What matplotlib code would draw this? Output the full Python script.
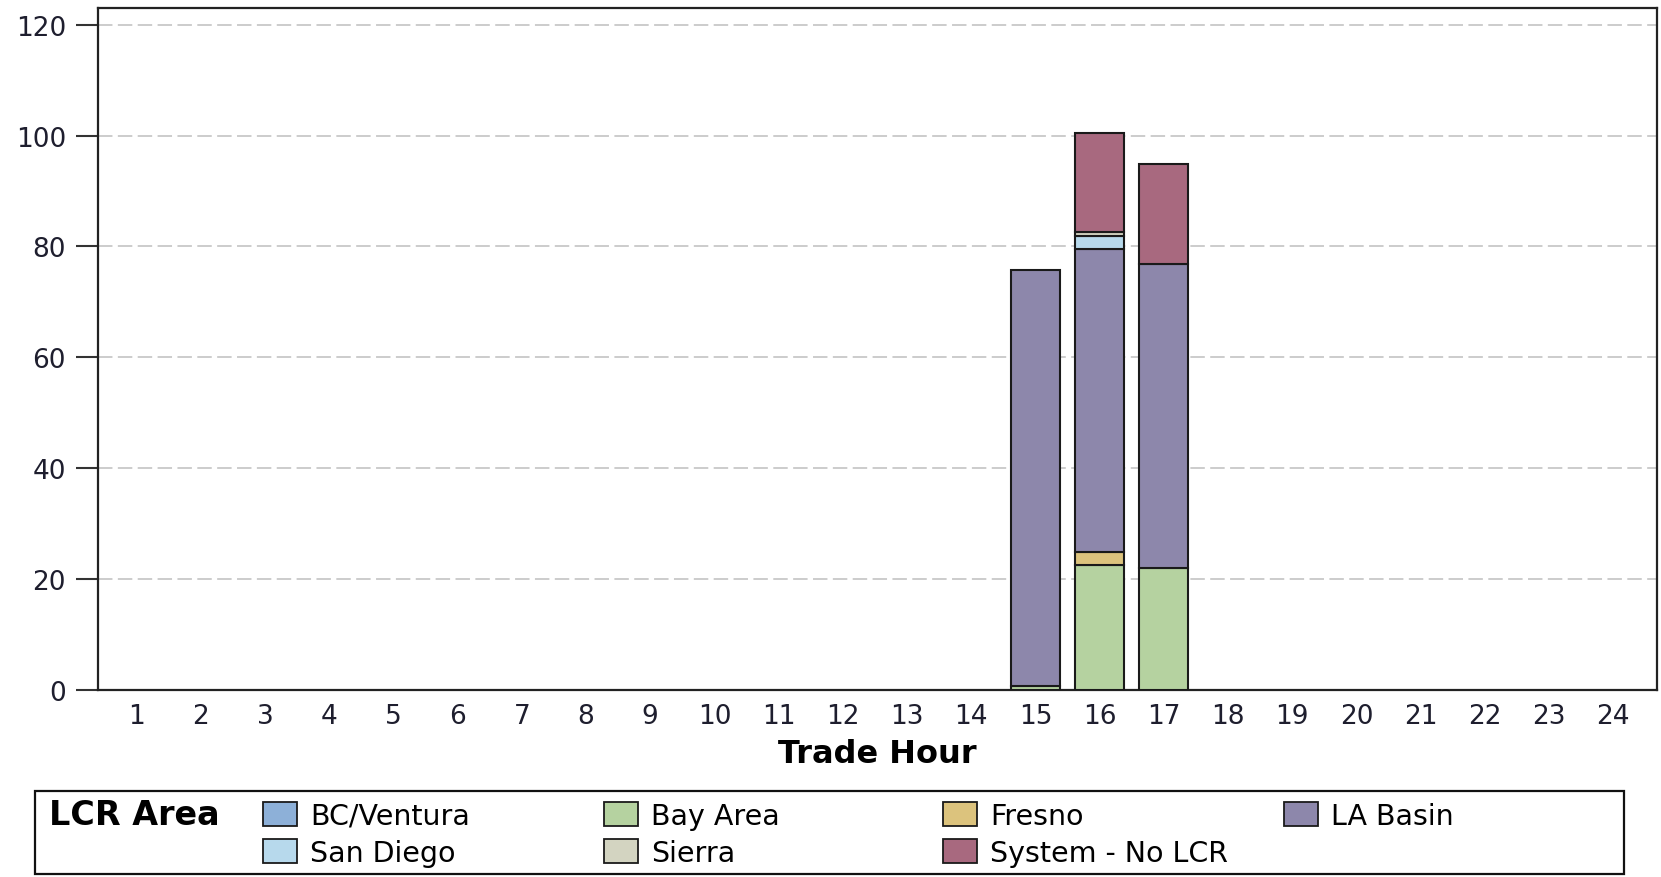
import matplotlib
matplotlib.use("Agg")
import matplotlib.pyplot as plt
from matplotlib.patches import Patch, Rectangle
import numpy as np

hours = list(range(1, 25))

areas = ["BC/Ventura", "Bay Area", "Fresno", "LA Basin",
         "San Diego", "Sierra", "System - No LCR"]
colors = ["#8db0d8", "#b5d2a0", "#dcc37d", "#8d87ab",
          "#b7d9ec", "#d3d4c1", "#a8697f"]

# values by trade hour (1..24), only hours 15-17 have data
bc_ventura = [0] * 24
bay_area = [0] * 14 + [0.8, 22.6, 22.0] + [0] * 7
fresno = [0] * 14 + [0, 2.2, 0] + [0] * 7
la_basin = [0] * 14 + [74.9, 54.8, 54.9] + [0] * 7
san_diego = [0] * 14 + [0, 2.2, 0] + [0] * 7
sierra = [0] * 14 + [0, 0.8, 0] + [0] * 7
system_no_lcr = [0] * 14 + [0, 17.9, 18.0] + [0] * 7

series = [bc_ventura, bay_area, fresno, la_basin, san_diego, sierra, system_no_lcr]

W, H = 1661, 878
fig = plt.figure(figsize=(W / 100, H / 100), dpi=100)
ax = fig.add_axes([98 / W, 1 - 691 / H, (1657 - 98) / W, (691 - 9) / H])

x = np.array(hours)
bottom = np.zeros(len(hours))
for vals, c in zip(series, colors):
    v = np.array(vals, dtype=float)
    m = v > 0
    if m.any():
        ax.bar(x[m], v[m], bottom=bottom[m], width=0.76, color=c,
               edgecolor="#1a1a1a", linewidth=1.5, zorder=3)
    bottom += v

ax.set_xlim(0.4, 24.68)
ax.set_ylim(0, 123)
ax.set_xticks(hours)
ax.set_yticks(range(0, 121, 20))
ax.yaxis.grid(True, color="#c8c8c8", linewidth=1.3, linestyle=(0, (8, 3)))
ax.set_axisbelow(True)

for s in ax.spines.values():
    s.set_linewidth(1.6)
    s.set_color("#222222")

ax.tick_params(axis="x", length=0, pad=9, labelsize=19, labelcolor="#1e1e2e")
ax.tick_params(axis="y", length=16, width=1.5, color="#333333", pad=7,
               labelsize=19, labelcolor="#1e1e2e")
ax.set_xlabel("Trade Hour", fontsize=23, fontweight="bold", labelpad=7)

# legend box at the bottom
fig.patches.append(Rectangle((35 / W, 1 - 875 / H), (1624 - 35) / W, (875 - 792) / H,
                             transform=fig.transFigure, fill=False,
                             edgecolor="#111111", linewidth=1.6))
fig.text(49 / W, 1 - 816 / H, "LCR Area", fontsize=24, fontweight="bold",
         va="center", ha="left")

handles = [Patch(facecolor=c, edgecolor="#1a1a1a", linewidth=1.3) for c in colors]
col_x = [263, 604, 943, 1284]
columns = [[0, 4], [1, 5], [2, 6], [3]]
for cx, idx in zip(col_x, columns):
    fig.legend([handles[i] for i in idx], [areas[i] for i in idx],
               loc="upper left", bbox_to_anchor=(cx / W, 1 - 803 / H),
               bbox_transform=fig.transFigure, frameon=False, fontsize=20.5,
               borderpad=0, borderaxespad=0, handlelength=1.2,
               handleheight=0.9, handletextpad=0.45, labelspacing=0.3)

fig.savefig("out.png", dpi=100)
